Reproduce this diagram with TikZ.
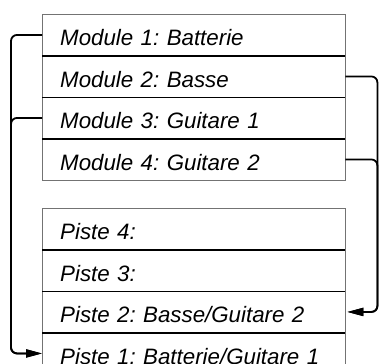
\documentclass[tikz,border=0pt]{standalone}
\usepackage{fontspec}
\setmainfont{Liberation Sans}
\usetikzlibrary{matrix,arrows.meta}
\frenchspacing

\begin{document}
\begin{tikzpicture}[x=1pt,y=-1pt,
	every node/.style={font=\fontsize{22.3}{25}\selectfont\itshape},
	cell/.style={inner xsep=18pt, inner ysep=0pt, text width=267pt, align=left, text height=31.5pt, text depth=10pt},
	frame/.style={draw=black!55, line width=0.8pt},
	divider/.style={line width=1.8pt},
	link/.style={line width=1.8pt, rounded corners=6pt, -{Triangle[length=16pt,width=8pt]}}]
	\useasboundingbox (0,0) rectangle (381,364);
	\matrix (mods) [matrix of nodes, nodes={cell}, inner sep=0pt, row sep=0pt, anchor=north west] at (42,14) {
		Module 1: Batterie \\
		Module 2: Basse \\
		Module 3: Guitare 1 \\
		Module 4: Guitare 2 \\
	};
	\matrix (tracks) [matrix of nodes, nodes={cell}, inner sep=0pt, row sep=0pt, anchor=north west] at (42,208) {
		Piste 4: \\
		Piste 3: \\
		Piste 2: Basse/Guitare 2 \\
		Piste 1: Batterie/Guitare 1 \\
	};
	\draw[frame] (mods.north west) rectangle (mods.south east);
	\draw[frame] (tracks.north west) rectangle (tracks.south east);
	\foreach \r in {1,2,3} {
		\draw[divider] (mods-\r-1.south west) -- (mods-\r-1.south east);
		\draw[divider] (tracks-\r-1.south west) -- (tracks-\r-1.south east);
	}
	% routing of the modules onto the tracks
	\draw[link] (mods-1-1.west) -- ++(-31,0) |- (tracks-4-1.west);
	\draw[link] (mods-3-1.west) -- ++(-31,0) |- (tracks-4-1.west);
	\draw[link, shorten >=2pt] (mods-2-1.east) -- ++(32,0) |- (tracks-3-1.east);
	\draw[link, shorten >=2pt] (mods-4-1.east) -- ++(32,0) |- (tracks-3-1.east);
\end{tikzpicture}
\end{document}
